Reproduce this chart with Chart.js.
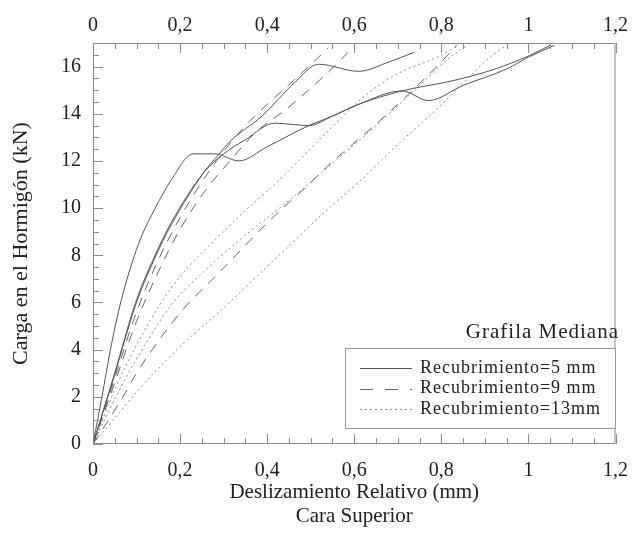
<!DOCTYPE html>
<html>
<head>
<meta charset="utf-8">
<script src="https://cdn.jsdelivr.net/npm/chart.js@4.4.1/dist/chart.umd.min.js"></script>
<style>
  html, body { margin: 0; padding: 0; background: #fff; }
  #wrap { width: 643px; height: 539px; }
</style>
</head>
<body>
<div id="wrap"><canvas id="chart" width="643" height="539"></canvas></div>
<script>
// Ejes
const xTicks = [0, 0.2, 0.4, 0.6, 0.8, 1, 1.2];
const yTicks = [0, 2, 4, 6, 8, 10, 12, 14, 16];

// Recubrimiento = 5 mm (línea continua)
const r5a_x = [0, 0.02, 0.04, 0.065, 0.105, 0.143, 0.18, 0.23, 0.28, 0.335, 0.4, 0.496, 0.55, 0.61, 0.71, 0.77, 0.85, 0.95, 1.0, 1.06];
const r5a_y = [0, 1.94, 4.0, 6.1, 8.5, 10.0, 11.2, 12.3, 12.3, 12.0, 12.6, 13.5, 13.9, 14.4, 14.97, 14.56, 15.2, 15.9, 16.4, 16.9];
const r5b_x = [0, 0.049, 0.098, 0.14, 0.18, 0.254, 0.3, 0.35, 0.417, 0.496, 0.55, 0.61, 0.71, 0.826, 0.924, 1.0, 1.05];
const r5b_y = [0, 2.95, 6.0, 7.9, 9.4, 11.5, 12.3, 12.9, 13.6, 13.5, 13.9, 14.4, 14.97, 15.4, 15.9, 16.45, 16.9];
const r5c_x = [0, 0.049, 0.098, 0.14, 0.18, 0.254, 0.29, 0.313, 0.388, 0.462, 0.518, 0.61, 0.68, 0.737];
const r5c_y = [0, 2.9, 5.9, 7.8, 9.3, 11.5, 12.3, 12.8, 13.9, 15.3, 16.1, 15.8, 16.2, 16.6];

// Recubrimiento = 9 mm (línea discontinua)
const r9a_x = [0, 0.05, 0.1, 0.15, 0.2, 0.26, 0.31, 0.373, 0.444, 0.507, 0.57, 0.6];
const r9a_y = [0, 2.6, 5.2, 7.3, 9.1, 10.8, 11.9, 13.2, 14.2, 15.2, 16.3, 16.9];
const r9b_x = [0, 0.05, 0.1, 0.15, 0.2, 0.25, 0.3, 0.35, 0.4, 0.46, 0.518, 0.54];
const r9b_y = [0, 2.8, 5.6, 7.8, 9.6, 11.1, 12.4, 13.5, 14.4, 15.4, 16.4, 16.8];
const r9c_x = [0, 0.067, 0.098, 0.138, 0.176, 0.216, 0.27, 0.328, 0.38, 0.43, 0.484, 0.54, 0.596, 0.64, 0.7, 0.8, 0.835];
const r9c_y = [0, 1.94, 2.95, 4.05, 5.0, 5.9, 6.9, 8.0, 9.0, 9.9, 10.8, 11.8, 12.7, 13.4, 14.4, 16.2, 16.9];

// Recubrimiento = 13 mm (línea de puntos)
const r13a_x = [0, 0.05, 0.1, 0.15, 0.2, 0.277, 0.35, 0.417, 0.52, 0.58, 0.62, 0.7, 0.79, 0.84];
const r13a_y = [0, 2.3, 4.2, 5.8, 7.1, 8.6, 9.9, 11.0, 12.9, 14.0, 14.7, 15.7, 16.4, 16.9];
const r13b_x = [0, 0.05, 0.1, 0.18, 0.254, 0.34, 0.455, 0.55, 0.65, 0.75, 0.82, 0.86];
const r13b_y = [0, 1.9, 3.6, 5.9, 7.3, 8.7, 10.4, 11.9, 13.5, 15.2, 16.4, 16.9];
const r13c_x = [0, 0.05, 0.1, 0.15, 0.21, 0.29, 0.37, 0.45, 0.53, 0.61, 0.7, 0.79, 0.85, 0.915, 0.95];
const r13c_y = [0, 1.1, 2.2, 3.2, 4.3, 5.6, 7.0, 8.4, 9.8, 11.1, 12.7, 14.2, 15.3, 16.45, 16.9];

const legendLabels = ['Recubrimiento=5 mm', 'Recubrimiento=9 mm', 'Recubrimiento=13mm'];
const legendTitle = 'Grafila Mediana';

const SERIF = '"Liberation Serif", "DejaVu Serif", serif';
const TXT = '#222';
const AXIS = '#8a8a8a';

const styles = {
    solid: { color: '#555', dash: [] },
    dash: { color: '#666', dash: [10, 8] },
    dot: { color: '#8c8c8c', dash: [2, 3] }
};

function pts(xs, ys) {
    return xs.map((x, i) => ({ x: x, y: ys[i] }));
}

function ds(xs, ys, st) {
    return {
        data: pts(xs, ys),
        borderColor: styles[st].color,
        borderDash: styles[st].dash,
        borderWidth: 1,
        pointRadius: 0,
        cubicInterpolationMode: 'monotone',
        showLine: true,
        fill: false
    };
}

function fmt(v) {
    return String(Math.round(v * 10) / 10).replace('.', ',');
}

// Marco, marcas interiores y leyenda
const framePlugin = {
    id: 'frame',
    afterDatasetsDraw(chart) {
        const ctx = chart.ctx;
        const a = chart.chartArea;
        const x = chart.scales.x;
        const y = chart.scales.y;
        ctx.save();
        ctx.strokeStyle = AXIS;
        ctx.lineWidth = 1;
        ctx.setLineDash([]);
        ctx.strokeRect(a.left + 0.5, a.top + 0.5, a.right - a.left - 1, a.bottom - a.top - 1);

        ctx.beginPath();
        for (let i = 0; i <= 24; i++) {
            const v = i * 0.05;
            const px = Math.round(x.getPixelForValue(v)) + 0.5;
            const len = (i % 4 === 0) ? 10 : 6;
            ctx.moveTo(px, a.bottom); ctx.lineTo(px, a.bottom - len);
            ctx.moveTo(px, a.top); ctx.lineTo(px, a.top + len);
        }
        for (let i = 0; i <= 34; i++) {
            const v = i * 0.5;
            const py = Math.round(y.getPixelForValue(v)) + 0.5;
            const len = (i % 4 === 0) ? 10 : 6;
            ctx.moveTo(a.left, py); ctx.lineTo(a.left + len, py);
        }
        ctx.stroke();

        // leyenda
        const bx = 345, by = 348, bw = 270, bh = 80;
        ctx.fillStyle = '#fff';
        ctx.fillRect(bx, by, bw, bh);
        ctx.strokeStyle = '#999';
        ctx.strokeRect(bx + 0.5, by + 0.5, bw, bh);

        ctx.fillStyle = TXT;
        ctx.letterSpacing = '1px';
        ctx.font = '21px ' + SERIF;
        ctx.textAlign = 'right';
        ctx.textBaseline = 'middle';
        ctx.fillText(legendTitle, 619, 332);

        const keys = ['solid', 'dash', 'dot'];
        ctx.font = '18px ' + SERIF;
        ctx.textAlign = 'left';
        legendLabels.forEach((lab, i) => {
            const ly = 368 + i * 20.5;
            ctx.strokeStyle = styles[keys[i]].color;
            ctx.setLineDash(keys[i] === 'dash' ? [13, 12] : styles[keys[i]].dash);
            ctx.beginPath();
            ctx.moveTo(360, Math.round(ly) + 0.5);
            ctx.lineTo(412, Math.round(ly) + 0.5);
            ctx.stroke();
            ctx.fillStyle = TXT;
            ctx.fillText(lab, 420, ly);
        });
        ctx.restore();
    }
};

document.addEventListener('DOMContentLoaded', function () {
    const xScaleBase = {
        type: 'linear',
        min: 0,
        max: 1.2,
        afterBuildTicks: s => { s.ticks = xTicks.map(v => ({ value: v })); },
        grid: { display: false, drawTicks: false },
        border: { display: false },
        ticks: {
            color: TXT,
            font: { family: SERIF, size: 20 },
            maxRotation: 0,
            autoSkip: false,
            callback: v => fmt(v)
        }
    };

    new Chart(document.getElementById('chart'), {
        type: 'scatter',
        data: {
            datasets: [
                ds(r5a_x, r5a_y, 'solid'),
                ds(r5b_x, r5b_y, 'solid'),
                ds(r5c_x, r5c_y, 'solid'),
                ds(r9a_x, r9a_y, 'dash'),
                ds(r9b_x, r9b_y, 'dash'),
                ds(r9c_x, r9c_y, 'dash'),
                ds(r13a_x, r13a_y, 'dot'),
                ds(r13b_x, r13b_y, 'dot'),
                ds(r13c_x, r13c_y, 'dot')
            ]
        },
        options: {
            responsive: false,
            animation: false,
            layout: { padding: { left: 0, right: 13, top: 0, bottom: 0 } },
            plugins: {
                legend: { display: false },
                tooltip: { enabled: false }
            },
            scales: {
                x: Object.assign({}, xScaleBase, {
                    position: 'bottom',
                    afterFit: s => { s.height = 95; },
                    ticks: Object.assign({}, xScaleBase.ticks, { padding: 15 }),
                    title: {
                        display: true,
                        text: ['Deslizamiento Relativo (mm)', 'Cara Superior'],
                        color: TXT,
                        font: { family: SERIF, size: 21, lineHeight: 1.15 },
                        padding: { top: 0, bottom: 10 }
                    }
                }),
                xTop: Object.assign({}, xScaleBase, {
                    position: 'top',
                    afterFit: s => { s.height = 43; },
                    ticks: Object.assign({}, xScaleBase.ticks, { padding: 5 })
                }),
                y: {
                    type: 'linear',
                    min: 0,
                    max: 17,
                    afterBuildTicks: s => { s.ticks = yTicks.map(v => ({ value: v })); },
                    afterFit: s => { s.width = 93; },
                    grid: { display: false, drawTicks: false },
                    border: { display: false },
                    ticks: {
                        color: TXT,
                        font: { family: SERIF, size: 20 },
                        padding: 12,
                        autoSkip: false
                    },
                    title: {
                        display: true,
                        text: 'Carga en el Hormigón (kN)',
                        color: TXT,
                        font: { family: SERIF, size: 22, lineHeight: 1.2 },
                        padding: { top: 8, bottom: 0 }
                    }
                }
            }
        },
        plugins: [framePlugin]
    });
});
</script>
</body>
</html>
